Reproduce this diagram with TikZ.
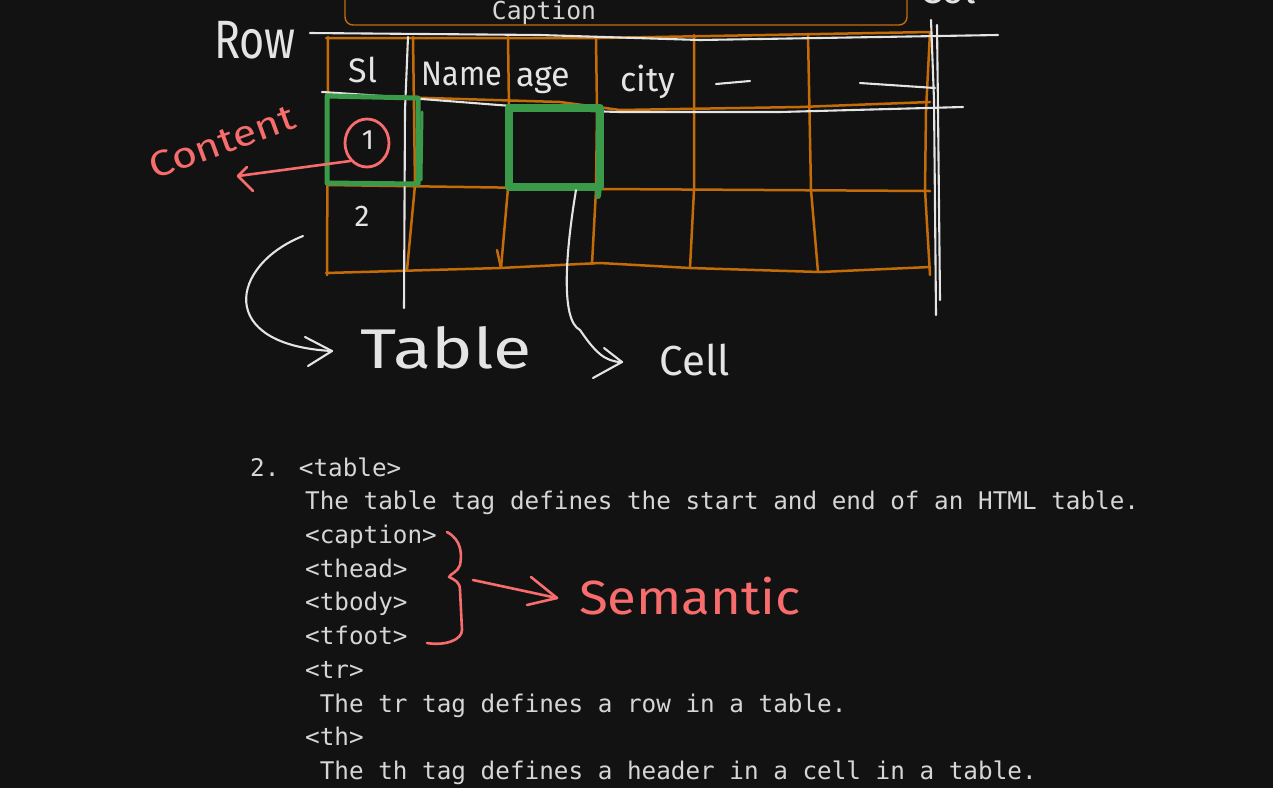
\documentclass[tikz,border=0pt]{standalone}
\usepackage{fontspec}
\newfontfamily\monof{DejaVu Sans Mono}
\newfontfamily\handf{Fira Sans}
\usetikzlibrary{calc,shapes.geometric}
\definecolor{bgc}{HTML}{121212}
\definecolor{inkc}{HTML}{E4E4E4}
\definecolor{txtc}{HTML}{D6D6D6}
\definecolor{orgc}{HTML}{C46C08}
\definecolor{grnc}{HTML}{3A9A4A}
\definecolor{redc}{HTML}{F76C6C}
\begin{document}
\begin{tikzpicture}[x=1pt,y=-1pt,line cap=round,line join=round,
  ink/.style={draw=inkc,line width=2.1pt},
  orgline/.style={draw=orgc,line width=2.5pt},
  redline/.style={draw=redc,line width=2.6pt},
  mono/.style={font=\monof\fontsize{24.3}{26}\selectfont,text=txtc,inner sep=0pt,anchor=base west},
  hand/.style={text=inkc,inner sep=0pt},
  redhand/.style={text=redc,inner sep=0pt}]
\clip (0,0) rectangle (1273,788);
\fill[bgc] (0,0) rectangle (1273,788);

% caption box
\draw[orgc,line width=1.4pt,rounded corners=8pt] (345,-40) rectangle (907,25);
\node[font=\monof\fontsize{24.7}{26}\selectfont,text=txtc,inner sep=0pt,anchor=base] (caption) at (544,19) {Caption};
\node[hand,font=\handf\fontsize{40}{40}\selectfont,anchor=base] (col) at (948,3) {Col};

% orange grid
\draw[orgline] (326,38) -- (600,38) -- (930,32);
\draw[orgline] (328,95) -- (560,102) -- (620,110) -- (800,107) -- (930,102);
\draw[orgline] (328,185) -- (600,189) -- (930,191);
\draw[orgline] (326,273) -- (500,268) -- (600,263) -- (690,268) -- (820,272) -- (930,267);
\draw[orgline] (328,37) -- (327,275);
\draw[orgline] (413,37) -- (414,110) -- (415,185) -- (407,270);
\draw[orgline] (508,37) -- (509,110) -- (508,188) -- (501,268);
\draw[orgline] (501,268) -- (497,250);
\draw[orgline] (596,38) -- (597,110) -- (596,190) -- (592,264);
\draw[orgline] (694,35) -- (694,190) -- (690,268);
\draw[orgline] (808,35) -- (811,190) -- (818,272);
\draw[orgline] (930,32) -- (926,110) -- (925,190) -- (930,275);

% white row/col lines
\draw[ink] (310,33) -- (540,35) -- (700,40) -- (998,35);
\draw[ink] (322,92) .. controls (450,100) and (540,110) .. (620,112) -- (780,112) -- (963,107);
\draw[ink] (408,37) -- (405,110) -- (404,308);
\draw[ink] (931,20) -- (934,100) -- (936,315);
\draw[ink] (937,25) -- (938,110) -- (940,300);
\draw[ink] (716,84) -- (750,81);
\draw[ink] (860,83) -- (935,88);

% header texts
\node[hand,font=\handf\fontsize{54}{54}\selectfont,xscale=0.8] (row) at (255,40) {Row};
\node[hand,font=\handf\fontsize{34}{34}\selectfont] (sl) at (363,70) {Sl};
\node[hand,font=\handf\fontsize{34}{34}\selectfont,xscale=0.9] (name) at (462,74) {Name};
\node[hand,font=\handf\fontsize{34}{34}\selectfont] (age) at (543,80) {age};
\node[hand,font=\handf\fontsize{34}{34}\selectfont] (city) at (648,82) {city};
\node[hand,font=\handf\fontsize{30}{30}\selectfont] (two) at (362,216) {2};

% green highlights
\draw[grnc,line width=5pt] (327,96) -- (418,98) -- (418,184) -- (327,183) -- cycle;
\draw[grnc,line width=3pt] (422,112) -- (421,180);
\node[draw=grnc,line width=8pt,minimum width=91pt,minimum height=79pt,inner sep=0pt] (cellbox) at (554,147) {};
\draw[grnc,line width=6pt] (599,185) -- (598,196);

% content marker
\node[hand,font=\handf\fontsize{28}{28}\selectfont] (one) at (368,140) {1};
\node[draw=redc,line width=2.8pt,ellipse,minimum width=44pt,minimum height=48pt,inner sep=0pt] (circ) at (367,143) {};
\node[redhand,font=\handf\fontsize{36}{36}\selectfont,rotate=20,xscale=1.2] (content) at (222,142) {Content};
\coordinate (ctip) at (238,176);
\draw[redline] (circ.south west) -- (ctip);
\draw[redline] (ctip) -- ++(9,-9);
\draw[redline] (ctip) -- ++(15,15);

% table label and arrow
\node[hand,font=\handf\fontsize{56}{56}\selectfont,xscale=1.25] (table) at (446,348) {Table};
\coordinate (tstart) at (303,236);
\coordinate (ttip) at (332,351);
\draw[ink] (tstart) .. controls (230,265) and (215,345) .. (ttip);
\draw[ink] (ttip) -- ++(-27,-14);
\draw[ink] (ttip) -- ++(-24,15);

% cell label and arrow
\node[hand,font=\handf\fontsize{42}{42}\selectfont] (cell) at (695,360) {Cell};
\coordinate (cstart) at (576,190);
\coordinate (ctipb) at (622,362);
\draw[ink] (cstart) .. controls (566,250) and (560,320) .. (580,330) .. controls (595,352) and (605,362) .. (ctipb);
\draw[ink] (ctipb) -- ++(-18,-14);
\draw[ink] (ctipb) -- ++(-29,16);

% code text
\node[mono] (l1) at (250,476) {2. <table>};
\node[mono] (l2) at (305,509.7) {The table tag defines the start and end of an HTML table.};
\node[mono] (l3) at (305,543.4) {<caption>};
\node[mono] (l4) at (305,577) {<thead>};
\node[mono] (l5) at (305,610.8) {<tbody>};
\node[mono] (l6) at (305,644.5) {<tfoot>};
\node[mono] (l7) at (305,678) {<tr>};
\node[mono] (l8) at (305,712) {\ The tr tag defines a row in a table.};
\node[mono] (l9) at (305,745.6) {<th>};
\node[mono] (l10) at (305,779.3) {\ The th tag defines a header in a cell in a table.};

% brace and semantic
\draw[redline] (447,532) .. controls (462,540) and (462,555) .. (460,565) .. controls (458,572) and (450,574) .. (449,577)
  .. controls (455,580) and (460,582) .. (460,590) -- (462,630) .. controls (462,640) and (445,646) .. (427,643);
\coordinate (bmid) at (473,580);
\node[redhand,font=\handf\fontsize{48}{48}\selectfont,xscale=1.1] (sem) at (690,596) {Semantic};
\coordinate (stip) at (557,598);
\draw[redline] (bmid) -- (stip);
\draw[redline] (stip) -- (531,577);
\draw[redline] (stip) -- (527,605);
\end{tikzpicture}
\end{document}
